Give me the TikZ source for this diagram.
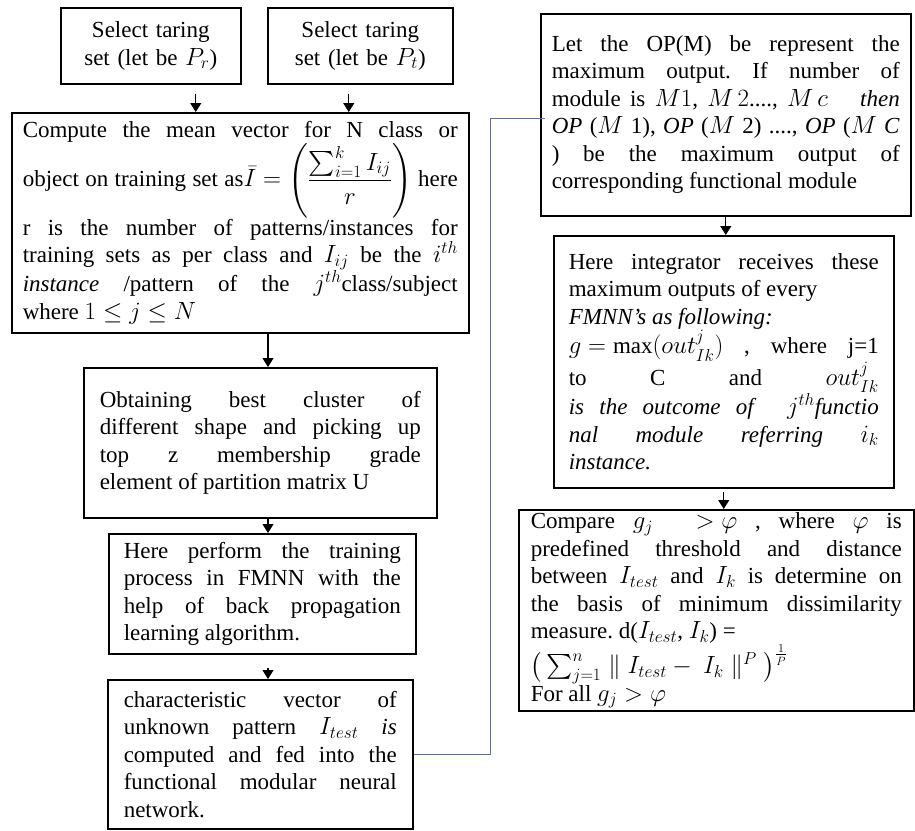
\documentclass[tikz,border=0pt]{standalone}
\usepackage{amsmath}
\usepackage{fontspec}
\setmainfont{Liberation Serif}
\usetikzlibrary{arrows.meta,calc}

\hyphenpenalty=10000
\tolerance=9999
\frenchspacing
\thickmuskip=5mu
\medmuskip=4mu

\definecolor{feedgray}{RGB}{95,112,140}

\tikzset{
  stepbox/.style={draw, line width=1.5pt, anchor=north west, align=justify,
    inner ysep=3pt, font=\fontsize{23}{27.5}\selectfont},
  arr/.style={line width=1.2pt, -{Triangle[length=9pt,width=11pt]}},
  feed/.style={line width=0.9pt, draw=feedgray},
}

\begin{document}
\begin{tikzpicture}[x=1pt, y=-1pt]

\useasboundingbox (0,0) rectangle (915,830);

% left column
\node[stepbox, align=center, inner xsep=13pt, text width=154pt, minimum height=76pt] (selr) at (60,7)
  {Select taring\\set (let be $P_r$)};
\node[stepbox, align=center, inner xsep=13pt, text width=159pt, minimum height=76pt] (selt) at (267,7)
  {Select taring\\set (let be $P_t$)};

\node[stepbox, inner xsep=11pt, text width=435pt, minimum height=220pt] (meanvec) at (11,112)
  {Compute the mean vector for N class or\linebreak
   object on training set as$\bar{I} = \left(\dfrac{\sum_{i=1}^{k} I_{ij}}{r}\right)$ here\linebreak
   r is the number of patterns/instances for\linebreak
   training sets as per class and $I_{ij}$ be the $i^{th}$\linebreak
   \textit{instance} /pattern of the $j^{th}$class/subject\linebreak
   where $1 \leq j \leq N$};

\node[stepbox, inner xsep=16pt, text width=321pt, minimum height=150pt] (cluster) at (83,367)
  {Obtaining best cluster of\linebreak
   different shape and picking up\linebreak
   top z membership grade\linebreak
   element of partition matrix U};

\node[stepbox, inner xsep=15pt, text width=277pt, minimum height=120pt] (train) at (108,533)
  {Here perform the training\linebreak
   process in FMNN with the\linebreak
   help of back propagation\linebreak
   learning algorithm.};

\node[stepbox, inner xsep=16pt, text width=273pt, minimum height=149pt] (charvec) at (107,679)
  {characteristic vector of\linebreak
   unknown pattern $I_{test}$ \textit{is}\linebreak
   computed and fed into the\linebreak
   functional modular neural\linebreak
   network.};

% right column
\node[stepbox, inner xsep=11pt, text width=348pt, minimum height=202pt] (maxout) at (540,13)
  {Let the OP(M) be represent the\linebreak
   maximum output. If number of\linebreak
   module is $M1$, $M\,2$...., $M\,c$ \quad \textit{then}\linebreak
   \textit{OP} ($M$ 1), \textit{OP} ($M$ 2) ...., \textit{OP} ($M$ \textit{C}\linebreak
   ) be the maximum output of\linebreak
   corresponding functional module};

\node[stepbox, inner xsep=15pt, text width=310pt, minimum height=252pt] (integ) at (553,235)
  {Here integrator receives these\linebreak
   maximum outputs of every\\
   \textit{FMNN's as following:}\\
   $g = \max(out^{j}_{Ik})$ , where j=1\linebreak
   to C and $out^{j}_{Ik}$\linebreak
   \textit{is the outcome of} \ $j^{th}$\textit{functio}\linebreak
   \textit{nal module referring} $i_k$\linebreak
   \textit{instance.}};

\node[stepbox, inner xsep=12pt, text width=371pt, minimum height=191pt] (compare) at (518,509)
  {Compare $g_j\ \ > \varphi$ , where $\varphi$ is\linebreak
   predefined threshold and distance\linebreak
   between $I_{test}$ and $I_k$ is determine on\linebreak
   the basis of minimum dissimilarity\linebreak
   measure. d($I_{test}$, $I_k$) =\\
   $\big(\sum_{j=1}^{n} \parallel I_{test} -\ I_k \parallel^{P}\big)^{\frac{1}{P}}$\\
   For all $g_j > \varphi$};

% flow arrows
\coordinate (spine) at (268,0);
\draw[arr, shorten <=9pt] ([xshift=45pt]selr.south) -- ([xshift=45pt]selr.south |- meanvec.north);
\draw[arr, shorten <=9pt] ([xshift=-11.5pt]selt.south) -- ([xshift=-11.5pt]selt.south |- meanvec.north);
\draw[arr] (meanvec.south -| spine) -- (cluster.north -| spine);
\draw[arr] (cluster.south -| spine) -- (train.north -| spine);
\draw[arr, shorten <=13pt] (train.south -| spine) -- (charvec.north -| spine);
\draw[arr] (maxout.south) -- (maxout.south |- integ.north);
\draw[arr, shorten <=3pt] (integ.south) -- (integ.south |- compare.north);

% feed into the modules
\draw[feed] (charvec.east) -- ++(77,0) |- ([xshift=5pt,yshift=-4pt]maxout.west);

\end{tikzpicture}
\end{document}
